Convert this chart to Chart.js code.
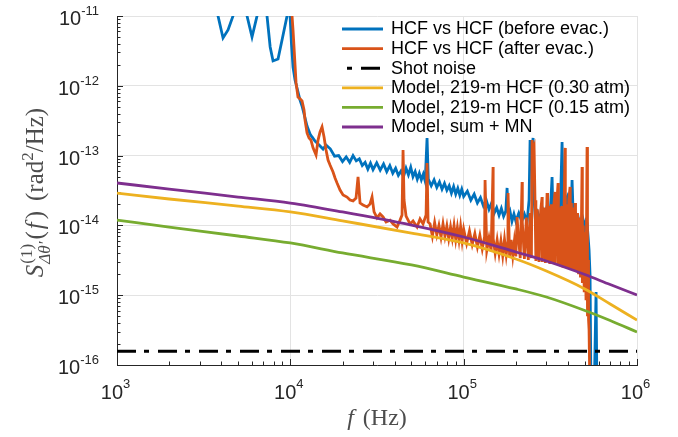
<!DOCTYPE html>
<html>
<head>
<meta charset="utf-8">
<script src="https://cdn.jsdelivr.net/npm/chart.js@4.4.1/dist/chart.umd.min.js"></script>
<style>
  body { margin: 0; background: #fff; }
  canvas { display: block; }
</style>
</head>
<body>
<canvas id="psdChart" width="678" height="437"></canvas>
<script>
// measured spectra (Hz, rad^2/Hz)
const blueFreq = [3500, 3827, 4090, 4371, 4670, 4900, 5300, 5626, 6012, 6424, 6700, 7000, 7337, 7650, 7948, 8492, 8950, 9572, 9900, 10150,
  10365, 10644, 10930, 11375, 11682, 12157, 12484, 12992, 13341, 13884, 14258, 14838, 15442, 16071,
  17000, 18000, 19000, 20000, 21000, 22000, 23000, 24000, 25000, 26000, 27000, 28000, 29000, 30000, 31500, 33000, 34500, 36000, 37500, 39000,
  40500, 42000, 43500, 45000, 46500, 48000, 49500, 51000, 52500, 54000, 55500, 57000, 58500, 60000, 61486, 62500, 65000, 67500, 70000, 72500,
  75000, 77500, 80000, 82500, 85000, 87500, 90000, 92500, 95000, 97500, 100000, 105000, 110000, 115000, 120000, 125000, 130000, 135000, 140000, 145000,
  150000, 155000, 160000, 165000, 170000, 175000, 178010, 181000, 185000, 190000, 195000, 200000, 208000, 216000, 224000, 232000, 238440, 241630, 244860, 251450,
  254810, 260000, 268000, 276000, 284000, 292000, 300000, 308000, 316000, 323620, 328000, 336000, 344000, 352000, 360000, 369570, 376000, 384000, 394940, 400000,
  408000, 416000, 422050, 428000, 436000, 444000, 452000, 460000, 468000, 476000, 484000, 492000, 500000, 508000, 515080, 522000, 528950, 536020, 543190, 565260,
  580490, 588260];
const blueVals = [2e-11, 1e-11, 4.84e-12, 6.3e-12, 1e-11, 2e-11, 2e-11, 1e-11, 5e-12, 1e-11, 2e-11, 2e-11, 1e-11, 3.6e-12, 2.27e-12, 2.42e-12, 4.5e-12, 1e-11, 1.4e-11, 4e-12,
  1.86e-12, 1.21e-12, 9.3e-13, 6.26e-13, 5.14e-13, 3.46e-13, 2.65e-13, 2.04e-13, 1.85e-13, 1.62e-13, 1.52e-13, 1.37e-13, 1.24e-13, 1.42e-13,
  1.25e-13, 9.8e-14, 1.0e-13, 8.2e-14, 9.6e-14, 8.0e-14, 1.0e-13, 8.4e-14, 9.0e-14, 7.2e-14, 8.0e-14, 6.4e-14, 7.8e-14, 6.3e-14, 7.9e-14, 6.2e-14, 7.6e-14, 5.9e-14, 7.2e-14, 5.6e-14,
  6.6e-14, 5.2e-14, 6.0e-14, 5.0e-14, 6.6e-14, 5.3e-14, 6.8e-14, 5.0e-14, 5.9e-14, 4.6e-14, 5.6e-14, 4.5e-14, 5.4e-14, 4.3e-14, 1.79e-13, 4.6e-14, 3.7e-14, 4.5e-14, 3.5e-14, 4.2e-14,
  3.3e-14, 4.0e-14, 3.2e-14, 3.7e-14, 2.9e-14, 3.6e-14, 2.8e-14, 3.4e-14, 2.7e-14, 3.3e-14, 2.6e-14, 3.1e-14, 2.3e-14, 2.8e-14, 2.1e-14, 2.5e-14, 1.9e-14, 2.3e-14, 1.7e-14, 2.1e-14,
  1.5e-14, 1.8e-14, 1.4e-14, 1.75e-14, 1.35e-14, 1.6e-14, 3.44e-14, 1.4e-14, 1.6e-14, 1.15e-14, 1.45e-14, 1.15e-14, 1.5e-14, 1.15e-14, 1.45e-14, 1.1e-14, 2.31e-14, 1.67e-13, 8.65e-14, 1.79e-13,
  2.31e-14, 1.1e-14, 1.5e-14, 1.2e-14, 1.75e-14, 1.3e-14, 1.7e-14, 1.25e-14, 1.55e-14, 4.94e-14, 1.25e-14, 1.5e-14, 1.15e-14, 1.6e-14, 1.3e-14, 1.57e-13, 1.6e-14, 2.2e-14, 2.55e-14, 1.5e-14,
  1.8e-14, 1.4e-14, 4.47e-14, 1.5e-14, 1.2e-14, 1.35e-14, 1.05e-14, 1.2e-14, 9.2e-15, 1.0e-14, 8.0e-15, 1.1e-14, 9.0e-15, 1.15e-14, 1.08e-14, 7e-15, 4.45e-15, 1.95e-15, 3e-17, 3e-17,
  1.11e-15, 3e-17];

const orangeFreq = [10100, 10230, 10365, 10644, 10790, 11070, 11375, 11682, 11997, 12157, 12484, 12820, 13150, 13521, 14070, 14449, 14838, 15238, 15649, 16071,
  16503, 16946, 17636, 18112, 18599, 19355, 20142, 21241, 22106, 23005, 23939, 24584, 25247, 26274, 27704, 28835, 29612, 30409, 31643, 32931,
  34270, 35664, 37609, 39139, 41273, 42952, 44109, 44700, 45295, 46515, 49055, 51050, 53834, 56024, 58303, 60674, 61486, 62309, 64000, 66000,
  68000, 70000, 72000, 74000, 76000, 78000, 80000, 82000, 84000, 86000, 88000, 90000, 92000, 94000, 96000, 98000, 100000, 104000, 108000, 112000,
  116000, 120000, 124000, 128000, 132000, 132880, 136000, 140000, 144000, 147790, 148000, 152000, 156000, 160000, 164000, 168000, 172000, 176000, 180000, 180390,
  184000, 188000, 192000, 196000, 200000, 203300, 206000, 212000, 217270, 218000, 224000, 230000, 236000, 242000, 246000, 248130, 251450, 254810, 258000, 261000,
  266000, 272000, 278000, 283370, 284000, 290000, 296000, 302830, 305000, 308000, 314000, 320000, 326000, 332000, 336770, 338000, 344000, 350460, 352000, 356000,
  362000, 368000, 374000, 380000, 384590, 386000, 392000, 398000, 404000, 410990, 412000, 418000, 424000, 430000, 436000, 439200, 442000, 448000, 454000, 460000,
  466000, 472000, 478000, 481980, 484000, 490000, 496000, 502000, 508000, 515080, 518000, 521970, 525460, 528950, 536020];
const orangeVals = [1.3e-11, 1e-11, 6.3e-12, 1.99e-12, 1.1e-12, 6.92e-13, 6.5e-13, 6.05e-13, 4.5e-13, 3.24e-13, 2.11e-13, 1.79e-13, 1.67e-13, 1.29e-13, 1.02e-13, 1.67e-13, 2.18e-13, 2.57e-13, 1.85e-13, 1.2e-13,
  8.65e-14, 7.33e-14, 5.82e-14, 4.78e-14, 4.05e-14, 3.21e-14, 2.73e-14, 2.55e-14, 2.31e-14, 2.24e-14, 2.47e-14, 4.94e-14, 2.09e-14, 1.96e-14, 1.84e-14, 2.03e-14, 2.55e-14, 1.56e-14, 1.28e-14, 1.46e-14,
  1.32e-14, 1.12e-14, 1.19e-14, 1.05e-14, 9.48e-15, 1.19e-14, 1.41e-14, 1.2e-13, 2.31e-14, 1.36e-14, 1.05e-14, 1.16e-14, 9.48e-15, 1.24e-14, 1.05e-14, 1.41e-14, 7.83e-14, 1.12e-14, 1.05e-14, 7.0e-15,
  1.1e-14, 7.3e-15, 1.0e-14, 6.8e-15, 1.05e-14, 7.0e-15, 9.8e-15, 6.5e-15, 9.5e-15, 6.6e-15, 1.0e-14, 6.3e-15, 9.3e-15, 6.2e-15, 9.6e-15, 6.0e-15, 8.8e-15, 5.5e-15, 8.3e-15, 5.3e-15,
  7.6e-15, 4.9e-15, 7.2e-15, 4.6e-15, 6.9e-15, 4.47e-14, 4.4e-15, 6.6e-15, 4.3e-15, 6.87e-14, 6.5e-15, 4.0e-15, 6.2e-15, 3.9e-15, 6.0e-15, 3.7e-15, 6.3e-15, 3.8e-15, 6.0e-15, 2.91e-14,
  3.6e-15, 6.2e-15, 3.7e-15, 5.9e-15, 3.6e-15, 1.32e-14, 8e-15, 3.4e-15, 4.19e-14, 1.1e-14, 3.3e-15, 1.3e-14, 3.2e-15, 1.5e-14, 3.4e-15, 1.67e-13, 1.2e-13, 1.33e-13, 2.3e-14, 3.1e-15,
  1.7e-14, 3.0e-15, 1.6e-14, 2.55e-14, 3.0e-15, 1.8e-14, 2.9e-15, 2.91e-14, 3.0e-15, 1.9e-14, 2.8e-15, 2.0e-14, 2.8e-15, 2.1e-14, 3.01e-14, 2.7e-15, 2.0e-14, 4.05e-14, 2.7e-15, 1.8e-14,
  2.6e-15, 1.9e-14, 2.5e-15, 2.2e-14, 1.29e-13, 2.5e-15, 2.0e-14, 2.4e-15, 2.3e-14, 3.55e-14, 2.4e-15, 2.1e-14, 2.3e-15, 1.8e-14, 2.3e-15, 2.09e-14, 1.6e-14, 2.2e-15, 1.5e-14, 2.0e-15,
  1.3e-14, 1.8e-15, 1.2e-14, 6.87e-14, 1.5e-15, 1.0e-14, 1.1e-15, 8.0e-15, 8.5e-16, 1.33e-13, 5e-16, 3.19e-15, 4.41e-16, 3.17e-16, 3e-17];

// shot noise floor
const shotFreq = [1e3, 1e6];
const shotVals = [1.57e-16, 1.57e-16];

// model curves
const modelFreq = [1e3, 2e3, 5e3, 1e4, 2e4, 5e4, 1e5, 2e5, 3e5, 5e5, 7e5, 1e6];
const model030 = [2.91e-14, 2.39e-14, 1.89e-14, 1.56e-14, 1.16e-14, 7.78e-15, 5.6e-15, 3.3e-15, 2.22e-15, 1.23e-15, 7.48e-16, 4.41e-16];
const model015 = [1.19e-14, 9.48e-15, 7.05e-15, 5.6e-15, 4.03e-15, 2.71e-15, 1.82e-15, 1.23e-15, 9.42e-16, 6.04e-16, 4.34e-16, 2.97e-16];
const modelSum = [4.05e-14, 3.32e-14, 2.55e-14, 2.09e-14, 1.56e-14, 1.01e-14, 6.82e-15, 4.16e-15, 3.09e-15, 1.98e-15, 1.42e-15, 1.01e-15];

const seriesLabels = ['HCF vs HCF (before evac.)', 'HCF vs HCF (after evac.)', 'Shot noise',
  'Model, 219-m HCF (0.30 atm)', 'Model, 219-m HCF (0.15 atm)', 'Model, sum + MN'];

const sansFont = '"Liberation Sans", Arial, Helvetica, sans-serif';
const serifFont = '"Liberation Serif", "Times New Roman", serif';

function pairs(xs, ys) {
    return xs.map((x, i) => ({x: x, y: ys[i]}));
}

function isDecade(v) {
    const l = Math.log10(v);
    return Math.abs(l - Math.round(l)) < 1e-6;
}

function isWholeMantissa(v) {
    const e = Math.floor(Math.log10(v) + 1e-9);
    const m = v / Math.pow(10, e);
    return Math.abs(m - Math.round(m)) < 1e-6;
}

// draw a run of text pieces (mixed fonts / raised parts) centred on cx
function drawPieces(ctx, pieces, cx, baseY) {
    let total = 0;
    pieces.forEach(p => {
        ctx.font = p.font;
        p.w = ctx.measureText(p.text).width;
        if (p.sub) {
            ctx.font = p.subFont;
            p.w = Math.max(p.w, ctx.measureText(p.sub).width);
        }
        total += p.w + (p.gap || 0);
    });
    let x = cx - total / 2;
    pieces.forEach(p => {
        x += p.gap || 0;
        ctx.font = p.font;
        ctx.fillText(p.text, x, baseY + (p.dy || 0));
        if (p.sub) {
            ctx.font = p.subFont;
            ctx.fillText(p.sub, x, baseY + p.subDy);
        }
        x += p.w;
    });
}

const baseFont = '20px ' + sansFont;
const expFont = '13px ' + sansFont;

const axisDecor = {
    id: 'axisDecor',
    beforeDatasetsDraw(chart) {
        const {ctx, chartArea: a, scales: {x, y}} = chart;
        ctx.save();
        ctx.strokeStyle = '#262626';
        ctx.lineWidth = 1;
        ctx.beginPath();
        x.ticks.forEach(t => {
            if (!isWholeMantissa(t.value)) return;
            const len = isDecade(t.value) ? 6 : 3.5;
            const px = Math.round(x.getPixelForValue(t.value)) + 0.5;
            ctx.moveTo(px, a.bottom);
            ctx.lineTo(px, a.bottom - len);
        });
        y.ticks.forEach(t => {
            if (!isWholeMantissa(t.value)) return;
            const len = isDecade(t.value) ? 6 : 3.5;
            const py = Math.round(y.getPixelForValue(t.value)) + 0.5;
            ctx.moveTo(a.left, py);
            ctx.lineTo(a.left + len, py);
        });
        ctx.stroke();

        // tick labels as 10 with raised exponent
        ctx.fillStyle = '#262626';
        ctx.textBaseline = 'alphabetic';
        ctx.textAlign = 'left';
        x.ticks.forEach(t => {
            if (!isDecade(t.value)) return;
            const e = String(Math.round(Math.log10(t.value)));
            ctx.font = baseFont;
            const w10 = ctx.measureText('10').width;
            ctx.font = expFont;
            const we = ctx.measureText(e).width;
            const left = x.getPixelForValue(t.value) - 1.5 - (w10 + we) / 2;
            ctx.font = baseFont;
            ctx.fillText('10', left, a.bottom + 34);
            ctx.font = expFont;
            ctx.fillText(e, left + w10, a.bottom + 23);
        });
        y.ticks.forEach(t => {
            if (!isDecade(t.value)) return;
            const e = String(Math.round(Math.log10(t.value)));
            const py = y.getPixelForValue(t.value);
            ctx.font = expFont;
            const we = ctx.measureText(e).width;
            ctx.font = baseFont;
            const w10 = ctx.measureText('10').width;
            const right = a.left - 18;
            ctx.fillText('10', right - we - w10, py + 9);
            ctx.font = expFont;
            ctx.fillText(e, right - we, py - 1);
        });
        ctx.restore();
    },
    afterDraw(chart) {
        const {ctx, chartArea: a} = chart;
        ctx.save();

        // legend, no box, top right inside the axes
        ctx.textBaseline = 'middle';
        ctx.textAlign = 'left';
        chart.data.datasets.forEach((ds, i) => {
            const ly = a.top + 13 + i * 19.6;
            const lx = a.right - 295;
            ctx.beginPath();
            ctx.strokeStyle = ds.borderColor;
            ctx.lineWidth = ds.borderWidth;
            ctx.setLineDash(ds.borderDash || []);
            ctx.lineDashOffset = ds.borderDash ? 22 : 0;
            ctx.moveTo(lx, ly);
            ctx.lineTo(lx + 41, ly);
            ctx.stroke();
            ctx.setLineDash([]);
            ctx.fillStyle = '#000';
            ctx.font = '18px ' + sansFont;
            ctx.fillText(ds.label, lx + 49, ly + 0.5);
        });

        // axis titles
        ctx.fillStyle = '#4d4d4d';
        ctx.textBaseline = 'alphabetic';
        drawPieces(ctx, [
            {text: 'f', font: 'italic 24px ' + serifFont},
            {text: '(Hz)', font: '24px ' + serifFont, gap: 9}
        ], (a.left + a.right) / 2, 425);

        ctx.translate(43, (a.top + a.bottom) / 2 + 2);
        ctx.rotate(-Math.PI / 2);
        drawPieces(ctx, [
            {text: 'S', font: 'italic 25px ' + serifFont},
            {text: '(1)', font: '17px ' + serifFont, dy: -11, sub: 'Δθ′', subFont: 'italic 17px ' + serifFont, subDy: 7, gap: 1},
            {text: '(', font: '25px ' + serifFont, gap: 2},
            {text: 'f', font: 'italic 25px ' + serifFont, gap: 2},
            {text: ')', font: '25px ' + serifFont, gap: 3},
            {text: '(rad', font: '25px ' + serifFont, gap: 10},
            {text: '2', font: '17px ' + serifFont, dy: -10},
            {text: '/Hz)', font: '25px ' + serifFont}
        ], 0, 0);
        ctx.restore();
    }
};

function lineSet(label, xs, ys, color, order, extra) {
    return Object.assign({
        label: label,
        data: pairs(xs, ys),
        borderColor: color,
        backgroundColor: color,
        borderWidth: 2.8,
        pointRadius: 0,
        tension: 0,
        fill: false,
        order: order
    }, extra || {});
}

const noTicks = { display: false };

const ctx = document.getElementById('psdChart').getContext('2d');

new Chart(ctx, {
    type: 'line',
    data: {
        datasets: [
            lineSet(seriesLabels[0], blueFreq, blueVals, '#0072BD', 6),
            lineSet(seriesLabels[1], orangeFreq, orangeVals, '#D95319', 5),
            lineSet(seriesLabels[2], shotFreq, shotVals, '#000000', 4, {borderWidth: 3, borderDash: [19, 8, 5, 9]}),
            lineSet(seriesLabels[3], modelFreq, model030, '#EDB120', 3, {cubicInterpolationMode: 'monotone'}),
            lineSet(seriesLabels[4], modelFreq, model015, '#77AC30', 2, {cubicInterpolationMode: 'monotone'}),
            lineSet(seriesLabels[5], modelFreq, modelSum, '#7E2F8E', 1, {cubicInterpolationMode: 'monotone'})
        ]
    },
    options: {
        responsive: false,
        animation: false,
        events: [],
        layout: { padding: { top: 16, right: 41, left: 0, bottom: 0 } },
        plugins: {
            legend: { display: false },
            tooltip: { enabled: false }
        },
        scales: {
            x: {
                type: 'logarithmic',
                min: 1e3,
                max: 1e6,
                afterFit: s => { s.height = 72; },
                border: { display: true, color: '#262626', width: 1 },
                grid: {
                    drawTicks: false,
                    lineWidth: 1,
                    color: c => (c.tick && isDecade(c.tick.value)) ? '#e3e3e3' : 'rgba(0,0,0,0)'
                },
                ticks: noTicks
            },
            y: {
                type: 'logarithmic',
                min: 1e-16,
                max: 1e-11,
                afterFit: s => { s.width = 117; },
                border: { display: true, color: '#262626', width: 1 },
                grid: {
                    drawTicks: false,
                    lineWidth: 1,
                    color: c => (c.tick && isDecade(c.tick.value)) ? '#e3e3e3' : 'rgba(0,0,0,0)'
                },
                ticks: noTicks
            }
        }
    },
    plugins: [axisDecor]
});
</script>
</body>
</html>
